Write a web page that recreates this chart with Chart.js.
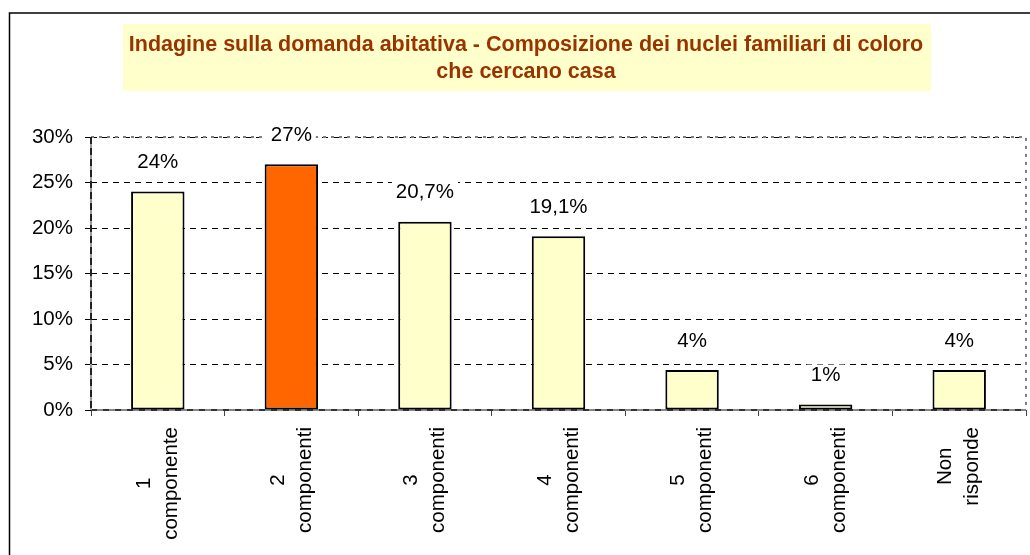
<!DOCTYPE html>
<html>
<head>
<meta charset="utf-8">
<script src="https://cdn.jsdelivr.net/npm/chart.js@4.4.0/dist/chart.umd.min.js"></script>
<style>
  html, body { margin: 0; padding: 0; background: #fff; }
  #wrap { position: relative; width: 1030px; height: 555px; }
</style>
</head>
<body>
<div id="wrap"><canvas id="grafico"></canvas></div>
<script>
// dati del grafico
var categorie = [['1', 'componente'], ['2', 'componenti'], ['3', 'componenti'], ['4', 'componenti'],
                 ['5', 'componenti'], ['6', 'componenti'], ['Non', 'risponde']];
var valori = [24, 27, 20.7, 19.1, 4.4, 0.6, 4.4];
var etichette = ['24%', '27%', '20,7%', '19,1%', '4%', '1%', '4%'];
var coloriBarre = ['#FFFFCC', '#FF6600', '#FFFFCC', '#FFFFCC', '#FFFFCC', '#FFFFCC', '#FFFFCC'];
var titolo = ['Indagine sulla domanda abitativa - Composizione dei nuclei familiari di coloro',
              'che cercano casa'];

var FONT = '"Liberation Sans", Arial, sans-serif';
Chart.defaults.font.family = FONT;
Chart.defaults.color = '#000';

// cornice esterna + riquadro del titolo
var cornice = {
  id: 'cornice',
  beforeDraw: function (chart) {
    var c = chart.ctx;
    c.save();
    c.fillStyle = '#fff';
    c.fillRect(0, 0, chart.width, chart.height);
    c.strokeStyle = '#000';
    c.lineWidth = 1.5;
    c.beginPath();
    c.moveTo(9.5, chart.height);
    c.lineTo(9.5, 13);
    c.lineTo(chart.width, 13);
    c.stroke();
    // titolo
    c.fillStyle = '#FFFFCC';
    c.fillRect(123, 24, 808, 67);
    c.fillStyle = '#993300';
    c.font = 'bold 21.5px ' + FONT;
    c.textAlign = 'center';
    c.textBaseline = 'alphabetic';
    c.fillText(titolo[0], 526, 51);
    c.fillText(titolo[1], 526, 78);
    c.restore();
  }
};

// bordo tratteggiato grigio dell'area + assi tratteggiati
var bordoArea = {
  id: 'bordoArea',
  beforeDatasetsDraw: function (chart) {
    var a = chart.chartArea, c = chart.ctx;
    c.save();
    c.strokeStyle = '#808080';
    c.lineWidth = 2;
    c.setLineDash([3, 5]);
    c.beginPath();
    c.moveTo(a.left, a.top);
    c.lineTo(a.right, a.top);
    c.lineTo(a.right, a.bottom);
    c.stroke();
    // asse x
    c.strokeStyle = '#888';
    c.setLineDash([]);
    c.beginPath();
    c.moveTo(a.left, a.bottom);
    c.lineTo(a.right, a.bottom);
    c.stroke();
    c.strokeStyle = '#333';
    c.setLineDash([6, 6]);
    c.beginPath();
    c.moveTo(a.left, a.bottom);
    c.lineTo(a.right, a.bottom);
    c.stroke();
    // asse y
    c.strokeStyle = '#999';
    c.setLineDash([]);
    c.beginPath();
    c.moveTo(a.left, a.top);
    c.lineTo(a.left, a.bottom);
    c.stroke();
    c.strokeStyle = '#222';
    c.setLineDash([7, 4]);
    c.beginPath();
    c.moveTo(a.left, a.top);
    c.lineTo(a.left, a.bottom);
    c.stroke();
    c.restore();
  }
};

// etichette dei valori sopra le barre
var valoriBarre = {
  id: 'valoriBarre',
  afterDatasetsDraw: function (chart) {
    var c = chart.ctx;
    var meta = chart.getDatasetMeta(0);
    c.save();
    c.font = '20.5px ' + FONT;
    c.textAlign = 'center';
    c.textBaseline = 'middle';
    meta.data.forEach(function (bar, i) {
      var y = bar.y - 29;
      var w = c.measureText(etichette[i]).width;
      c.fillStyle = '#fff';
      c.fillRect(bar.x - w / 2 - 4, y - 11, w + 8, 22);
      c.fillStyle = '#000';
      c.fillText(etichette[i], bar.x, y);
    });
    c.restore();
  }
};

// etichette delle categorie ruotate, righe centrate
var etichetteX = {
  id: 'etichetteX',
  afterDraw: function (chart) {
    var c = chart.ctx, sx = chart.scales.x;
    c.save();
    c.font = '20.5px ' + FONT;
    c.fillStyle = '#000';
    c.textAlign = 'center';
    c.textBaseline = 'middle';
    categorie.forEach(function (righe, i) {
      var x = sx.getPixelForValue(i);
      var maxW = 0;
      righe.forEach(function (r) { maxW = Math.max(maxW, c.measureText(r).width); });
      var cy = sx.top + 17 + maxW / 2;
      c.save();
      c.translate(x, cy);
      c.rotate(-Math.PI / 2);
      righe.forEach(function (r, j) {
        c.fillText(r, 0, (j - (righe.length - 1) / 2) * 27);
      });
      c.restore();
    });
    c.restore();
  }
};

var ctx = document.getElementById('grafico').getContext('2d');
var chart = new Chart(ctx, {
  type: 'bar',
  data: {
    labels: categorie,
    datasets: [{
      data: valori,
      backgroundColor: coloriBarre,
      borderColor: '#000',
      borderWidth: 2,
      borderSkipped: false,
      categoryPercentage: 1,
      barPercentage: 0.4
    }]
  },
  options: {
    responsive: true,
    maintainAspectRatio: false,
    animation: false,
    events: [],
    layout: { padding: { top: 137, right: 4, bottom: 0, left: 0 } },
    plugins: {
      legend: { display: false },
      title: { display: false },
      tooltip: { enabled: false }
    },
    scales: {
      x: {
        ticks: { display: false },
        grid: { drawOnChartArea: false, drawTicks: true, tickLength: 6, color: '#444', lineWidth: 1 },
        border: { display: false },
        afterFit: function (s) { s.height = 145; }
      },
      y: {
        min: 0,
        max: 30,
        ticks: {
          stepSize: 5,
          padding: 12,
          font: { size: 20.5 },
          color: '#000',
          callback: function (v) { return v + '%'; }
        },
        grid: { color: '#000', lineWidth: 1, tickLength: 6, tickColor: '#000' },
        border: { display: false, dash: [6, 5] },
        afterFit: function (s) { s.width = 91; }
      }
    }
  },
  plugins: [cornice, bordoArea, valoriBarre, etichetteX]
});
</script>
</body>
</html>
